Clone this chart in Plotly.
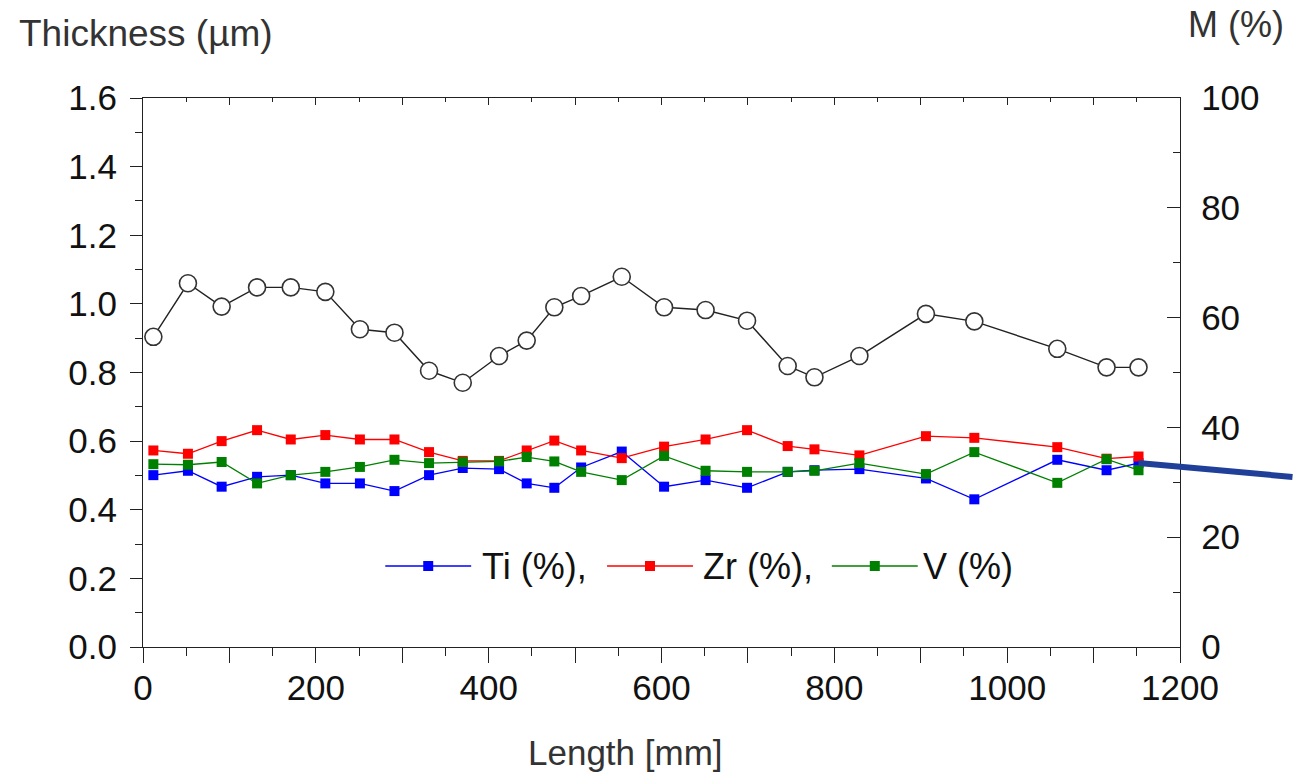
import plotly.graph_objects as go

# ---- data ----
length_mm = [12, 52, 91, 132, 171, 211, 251, 291, 331, 370, 412, 444, 476,
             507, 554, 603, 651, 699, 746, 777, 829, 906, 962, 1058, 1115, 1152]
thickness_um = [0.904, 1.060, 0.992, 1.048, 1.048, 1.035, 0.926, 0.916, 0.805,
                0.770, 0.848, 0.893, 0.990, 1.023, 1.079, 0.990, 0.982, 0.951,
                0.819, 0.786, 0.848, 0.971, 0.949, 0.869, 0.815, 0.815]
ti_pct = [31.3, 32.1, 29.2, 31.0, 31.3, 29.8, 29.8, 28.4, 31.3, 32.6, 32.4, 29.8,
          29.0, 32.7, 35.6, 29.2, 30.4, 29.0, 31.9, 32.2, 32.4, 30.7, 26.9, 34.1,
          32.2, 33.5]
zr_pct = [35.8, 35.2, 37.5, 39.5, 37.8, 38.6, 37.8, 37.8, 35.5, 33.9, 33.9, 35.8,
          37.6, 35.8, 34.4, 36.5, 37.8, 39.5, 36.6, 36.0, 34.9, 38.4, 38.1, 36.4,
          34.3, 34.7]
v_pct = [33.3, 33.2, 33.7, 29.8, 31.3, 31.9, 32.8, 34.1, 33.5, 33.7, 33.8, 34.6,
         33.8, 31.9, 30.4, 34.8, 32.1, 31.9, 31.9, 32.1, 33.5, 31.5, 35.5, 29.9,
         34.2, 32.2]

series_names = ["Ti (%),", "Zr (%),", "V (%)"]
series_colors = ["#0000ff", "#ff0000", "#008000"]

x_tickvals = [0, 100, 200, 300, 400, 500, 600, 700, 800, 900, 1000, 1100, 1200]
x_ticktext = ["0", "", "200", "", "400", "", "600", "", "800", "", "1000", "", "1200"]

FONT = "Liberation Sans, Arial, sans-serif"
TICK_SIZE = 35
W, H = 1294, 774
ML, MR, MT, MB = 142.5, 113.5, 98, 127
PW, PH = W - ML - MR, H - MT - MB


def px_x(p):
    return (p - ML) / PW


def px_y(p):
    return (H - MB - p) / PH


fig = go.Figure()

for name, vals, col in zip(series_names, [ti_pct, zr_pct, v_pct], series_colors):
    fig.add_trace(go.Scatter(
        x=length_mm, y=vals, name=name, yaxis="y2", mode="lines+markers",
        showlegend=False,
        line=dict(color=col, width=1.3),
        marker=dict(symbol="square", size=10, color=col, line=dict(width=0)),
    ))

fig.add_trace(go.Scatter(
    x=length_mm, y=thickness_um, name="Thickness", mode="lines+markers",
    showlegend=False,
    line=dict(color="#222222", width=1.4),
    marker=dict(symbol="circle", size=17, color="white",
                line=dict(color="#333333", width=1.6)),
))

# helper trace so the top axis (ticks only) gets drawn
fig.add_trace(go.Scatter(x=[], y=[], xaxis="x2", showlegend=False,
                         hoverinfo="skip"))

fig.update_layout(
    width=W, height=H,
    margin=dict(l=ML, r=MR, t=MT, b=MB),
    paper_bgcolor="white", plot_bgcolor="white",
    font=dict(family=FONT, size=TICK_SIZE, color="#111111"),
    showlegend=False,
    xaxis=dict(
        range=[0, 1200], tickmode="array", tickvals=x_tickvals,
        ticktext=x_ticktext, ticks="outside", ticklen=15, tickwidth=1.3,
        tickcolor="#222222", showline=True, linecolor="#222222", linewidth=1.3,
        showgrid=False, zeroline=False,
        minor=dict(dtick=50, ticks="outside", ticklen=8, tickwidth=1.2,
                   tickcolor="#222222"),
        ticklabelstandoff=-5,
        tickfont=dict(family=FONT, size=TICK_SIZE, color="#111111"),
    ),
    xaxis2=dict(
        range=[0, 1200], overlaying="x", side="top", anchor="y",
        tickmode="array", tickvals=x_tickvals, showticklabels=False,
        ticks="inside", ticklen=7, tickwidth=1.2, tickcolor="#222222",
        showline=True, linecolor="#222222", linewidth=1.3,
        showgrid=False, zeroline=False,
        minor=dict(dtick=50, ticks="inside", ticklen=4, tickwidth=1.1,
                   tickcolor="#222222"),
    ),
    yaxis=dict(
        range=[0, 1.6], dtick=0.2, tickformat=".1f", ticks="outside",
        ticklen=12, tickwidth=1.3, tickcolor="#222222",
        showline=True, linecolor="#222222", linewidth=1.3,
        showgrid=False, zeroline=False,
        minor=dict(dtick=0.1, ticks="outside", ticklen=7, tickwidth=1.2,
                   tickcolor="#222222"),
        ticklabelstandoff=6,
        tickfont=dict(family=FONT, size=TICK_SIZE, color="#111111"),
    ),
    yaxis2=dict(
        range=[0, 100], dtick=20, overlaying="y", side="right", anchor="x",
        ticks="inside", ticklen=13, tickwidth=1.3, tickcolor="#222222",
        showline=True, linecolor="#222222", linewidth=1.3,
        showgrid=False, zeroline=False,
        minor=dict(dtick=10, ticks="inside", ticklen=7, tickwidth=1.2,
                   tickcolor="#222222"),
        ticklabelstandoff=13,
        tickfont=dict(family=FONT, size=TICK_SIZE, color="#111111"),
    ),
)

# axis titles
fig.add_annotation(text="Thickness (µm)", xref="paper", yref="paper",
                   x=px_x(16), y=px_y(33), xanchor="left", yanchor="middle",
                   showarrow=False,
                   font=dict(family=FONT, size=37, color="#333333"))
fig.add_annotation(text="M (%)", xref="paper", yref="paper",
                   x=px_x(1187), y=px_y(25), xanchor="left", yanchor="middle",
                   showarrow=False,
                   font=dict(family=FONT, size=36, color="#333333"))
fig.add_annotation(text="Length [mm]", xref="paper", yref="paper",
                   x=px_x(625), y=px_y(752), xanchor="center", yanchor="middle",
                   showarrow=False,
                   font=dict(family=FONT, size=35, color="#333333"))

# legend drawn by hand to match the long sample lines of the reference
leg_y = 566
leg_lines = [(385, 471), (607, 693), (832, 918)]
leg_text_x = [480, 701, 921]
for (x0, x1), tx, name, col in zip(leg_lines, leg_text_x, series_names, series_colors):
    fig.add_shape(type="line", xref="paper", yref="paper",
                  x0=px_x(x0), x1=px_x(x1), y0=px_y(leg_y), y1=px_y(leg_y),
                  line=dict(color=col, width=1.3))
    xm = (x0 + x1) / 2
    fig.add_shape(type="rect", xref="paper", yref="paper",
                  x0=px_x(xm - 5), x1=px_x(xm + 5),
                  y0=px_y(leg_y + 5), y1=px_y(leg_y - 5),
                  fillcolor=col, line=dict(width=0))
    fig.add_annotation(text=name, xref="paper", yref="paper",
                       x=px_x(tx), y=px_y(leg_y), xanchor="left",
                       yanchor="middle", showarrow=False,
                       font=dict(family=FONT, size=36, color="#111111"))

# thick pointer line leaving the last Ti point toward the right edge
fig.add_annotation(x=length_mm[-1], y=ti_pct[-1], xref="x", yref="y2",
                   text=" ", showarrow=True, arrowhead=0, arrowwidth=6,
                   arrowcolor="#1f3f99", ax=158, ay=14, standoff=0,
                   font=dict(size=1))

fig.write_html("out.html")
